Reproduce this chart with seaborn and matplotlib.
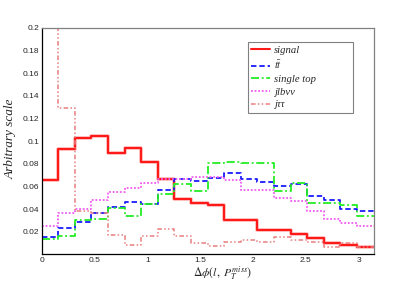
import numpy as np
import pandas as pd
import matplotlib
matplotlib.use('Agg')
import matplotlib.pyplot as plt
import seaborn as sns

# 20 bins over [0, pi]
n_bins = 20
x_range = (0, np.pi)
edges = np.linspace(*x_range, n_bins + 1)
centers = 0.5 * (edges[:-1] + edges[1:])

signal = [0.066, 0.0935, 0.103, 0.1046, 0.0896, 0.094, 0.082, 0.0664, 0.0485, 0.045,
          0.0440, 0.0300, 0.0300, 0.0215, 0.0215, 0.018, 0.0142, 0.0103, 0.008, 0.0063]
ttbar = [0.0153, 0.0237, 0.0283, 0.0368, 0.0415, 0.0465, 0.0444, 0.0573, 0.0664, 0.065,
         0.0676, 0.0720, 0.0665, 0.0637, 0.0603, 0.0625, 0.0520, 0.0480, 0.0398, 0.0382]
single_top = [0.0133, 0.0163, 0.0300, 0.0310, 0.0408, 0.0338, 0.0444, 0.0532, 0.0620, 0.0561,
              0.0805, 0.0817, 0.0810, 0.0808, 0.0562, 0.0632, 0.0451, 0.0451, 0.0440, 0.0338]
jlbvv = [0.0252, 0.0368, 0.0397, 0.0480, 0.0550, 0.0590, 0.0632, 0.0664, 0.0670, 0.0685,
         0.0682, 0.0655, 0.0565, 0.0567, 0.0494, 0.0470, 0.0382, 0.0312, 0.0274, 0.0252]
jtautau = [0.2, 0.1296, 0.0381, 0.0362, 0.0170, 0.0081, 0.0165, 0.0224, 0.0159, 0.0102,
           0.0072, 0.0110, 0.0125, 0.0110, 0.0157, 0.0128, 0.0110, 0.0065, 0.0098, 0.0068]

x_ticks = [0, 0.5, 1, 1.5, 2, 2.5, 3]
y_ticks = [0.02, 0.04, 0.06, 0.08, 0.1, 0.12, 0.14, 0.16, 0.18, 0.2]

series = [
    ('signal', signal, '#ff1a1a', None, 1.5),
    (r'$t\bar{t}$', ttbar, '#1a1aff', (3, 1.6), 1.3),
    ('single top', single_top, '#22ee22', (4.5, 1.5, 1, 1.5), 1.3),
    ('jlbνν', jlbvv, '#f05cf0', (1, 1), 1.3),
    ('jττ', jtautau, '#e77f7f', (3, 1.5, 1, 1.5, 1, 1.5), 1.1),
]

sns.set_style('white')
plt.rcParams['font.family'] = ['Liberation Sans', 'DejaVu Sans']
plt.rcParams['mathtext.fontset'] = 'stix'

fig = plt.figure(figsize=(4.15, 2.82), dpi=100)
ax = fig.add_axes([0.1005, 0.098, 0.7995, 0.8028])

for name, vals, color, dash, lw in series:
    df = pd.DataFrame({'x': centers, 'w': vals})
    if dash is None:
        # faint halo under the red line
        sns.histplot(data=df, x='x', weights='w', bins=n_bins, binrange=x_range,
                     element='step', fill=False, color=color, linewidth=2.6, alpha=0.3, ax=ax)
    kw = {} if dash is None else {'dashes': dash}
    sns.histplot(data=df, x='x', weights='w', bins=n_bins, binrange=x_range,
                 element='step', fill=False, color=color, linewidth=lw, ax=ax,
                 label=name, **kw)

ax.set_xlim(*x_range)
ax.set_ylim(0, 0.2)
ax.set_xticks(x_ticks)
ax.set_xticklabels([f'{v:g}' for v in x_ticks])
ax.set_yticks(y_ticks)
ax.set_yticklabels([f'{v:g}' for v in y_ticks])
ax.set_xticks(np.arange(0, 3.15, 0.1), minor=True)
ax.set_yticks(np.arange(0, 0.2, 0.005), minor=True)
ax.tick_params(which='major', direction='in', length=6.5, width=0.8, color='black',
               labelsize=6, pad=1.5, top=False, right=False)
ax.tick_params(which='minor', direction='in', length=3.2, width=0.6, color='black',
               top=False, right=False)
ax.tick_params(axis='x', pad=2)
for side in ['left', 'bottom']:
    ax.spines[side].set_color('black')
    ax.spines[side].set_linewidth(0.9)
for side in ['top', 'right']:
    ax.spines[side].set_color('#808080')
    ax.spines[side].set_linewidth(0.9)

serif_it = dict(family=['Liberation Serif', 'DejaVu Serif'], style='italic')
ax.set_ylabel('Arbitrary scale', fontsize=9.5, **serif_it)
ax.yaxis.set_label_coords(-0.075, 0.51)
ax.set_xlabel(r'$\Delta\phi(l,\ P_{T}^{miss})$', fontsize=8.5, ha='center')
ax.xaxis.set_label_coords(0.545, -0.042)

leg = ax.legend(loc='upper left', bbox_to_anchor=(0.621, 0.629, 0.317, 0.309),
                mode='expand', borderaxespad=0,
                prop=dict(size=7.7, **serif_it), handlelength=1.7, handletextpad=0.4,
                labelspacing=0.3, borderpad=0.35, fancybox=False, framealpha=1,
                edgecolor='#808080')
leg.get_frame().set_linewidth(0.8)

fig.savefig('out.png', dpi=100)
